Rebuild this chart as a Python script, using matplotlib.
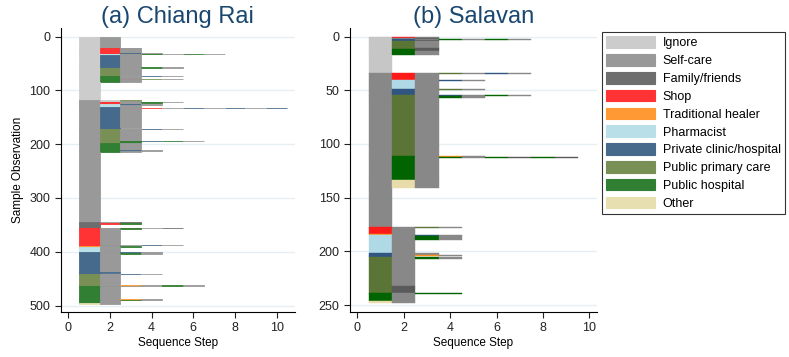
import matplotlib
matplotlib.use('Agg')
from matplotlib import pyplot as plt
from matplotlib.patches import Patch

plt.rcParams['font.family'] = ['Liberation Sans', 'DejaVu Sans']

# states: code -> label
codes = ['I', 'S', 'F', 'H', 'T', 'P', 'C', 'U', 'G', 'O']
labels = ['Ignore', 'Self-care', 'Family/friends', 'Shop', 'Traditional healer',
          'Pharmacist', 'Private clinic/hospital', 'Public primary care',
          'Public hospital', 'Other']

# sequence groups (sequence of states, number of observations), top to bottom
chiang_rai_seqs = ['IS', 'IFS', 'IHS', 'IHCS', 'IPSGSGS', 'IPS', 'ICS', 'ICSGS',
                   'IUS', 'IUPCS', 'IGS', 'IGHUS', 'IGS', 'I',
                   'SIU', 'SIS', 'SHSUS', 'SHSG', 'SHS', 'STS', 'SPCS', 'SPS',
                   'SCS', 'SCSHSCSCSC', 'SCS', 'SC', 'SUSCS', 'SUS', 'SUGCGS',
                   'SUG', 'SGS', 'SGCS', 'SGS', 'S',
                   'FSF', 'FSS', 'FHG', 'F',
                   'HSHSF', 'HSG', 'HS', 'HCSCS', 'HS', 'TSG',
                   'PS', 'PF',
                   'CSCS', 'CSGS', 'CS', 'CC', 'C',
                   'USCS', 'US', 'USTSGS',
                   'GGS', 'GS', 'GSTS', 'GSG', 'GS', 'OS']
chiang_rai_counts = [21, 1, 9, 1, 1, 2, 21, 3,
                     14, 1, 4, 1, 5, 34,
                     1, 2, 1, 1, 2, 1, 1, 3,
                     2, 1, 37, 1, 1, 22, 1,
                     2, 14, 1, 2, 131,
                     1, 1, 1, 7,
                     1, 2, 29, 1, 2, 1,
                     9, 1,
                     2, 1, 34, 1, 2,
                     1, 20, 1,
                     1, 24, 1, 1, 5, 2]

salavan_seqs = ['IHS', 'ISF', 'ICSGSGS', 'ICF', 'IUS', 'IUF', 'IGF', 'IGS', 'I',
                'SHSUSCS', 'SHS', 'SPSCS', 'SPS', 'SCSUS', 'SCS', 'SUSCSGS',
                'SUSGS', 'SUS', 'SGSTS', 'SGSGSGFGF', 'SGS', 'SOS', 'S',
                'HSUS', 'HS', 'TS', 'PSCS', 'PSGS', 'PS', 'CSS', 'CSTS', 'CS',
                'USGS', 'US', 'UF', 'GSGG', 'GS', 'OS']
salavan_counts = [1, 1, 1, 1, 7, 1, 1, 4, 17,
                  1, 5, 1, 8, 1, 4, 1,
                  2, 54, 1, 1, 21, 7, 36,
                  1, 6, 1, 1, 3, 13, 1, 1, 1,
                  2, 25, 7, 1, 6, 2]

colors_a = {'I': '#cccccc', 'S': '#999999', 'F': '#6e6e6e', 'H': '#ff3333',
            'T': '#ff9933', 'P': '#b9dfe8', 'C': '#466a8c', 'U': '#789055',
            'G': '#317f32', 'O': '#e8dfb0'}
colors_b = {'I': '#c6c6c6', 'S': '#888888', 'F': '#5a5a5a', 'H': '#ff1a1a',
            'T': '#ff9020', 'P': '#b0d9e6', 'C': '#2f5580', 'U': '#5a7535',
            'G': '#006400', 'O': '#e8dcaa'}


def draw(ax, seqs, counts, colors, edge):
    row = 0
    for seq, n in zip(seqs, counts):
        for j, c in enumerate(seq):
            ax.barh(row, 1, left=j + 0.5, height=n, align='edge',
                    color=colors[c], edgecolor=colors[c], lw=edge)
        row += n


def style(ax):
    ax.yaxis.grid(True, color='#e6eff1', lw=1)
    ax.set_axisbelow(True)
    ax.spines['top'].set_visible(False)
    ax.spines['right'].set_visible(False)
    ax.tick_params(direction='out', length=4, labelsize=9, colors='#222222')
    ax.set_xticks([0, 2, 4, 6, 8, 10])
    ax.set_xlabel('Sequence Step', fontsize=8.5, labelpad=2)


fig = plt.figure(figsize=(7.89, 3.57), dpi=100)
ax1 = fig.add_axes([0.0769, 0.126, 0.297, 0.795])
ax2 = fig.add_axes([0.4436, 0.126, 0.313, 0.795])

draw(ax1, chiang_rai_seqs, chiang_rai_counts, colors_a, 0.6)
style(ax1)
ax1.set_xlim(-0.365, 10.88)
ax1.set_ylim(512, -15.6)
ax1.set_yticks([0, 100, 200, 300, 400, 500])
ax1.set_ylabel('Sample Observation', fontsize=8.5)
ax1.set_title('(a) Chiang Rai', color='#1a476f', fontsize=17, pad=3)

draw(ax2, salavan_seqs, salavan_counts, colors_b, 0.3)
style(ax2)
ax2.set_xlim(-0.315, 10.33)
ax2.set_ylim(256.5, -7.8)
ax2.set_yticks([0, 50, 100, 150, 200, 250])
ax2.set_title('(b) Salavan', color='#1a476f', fontsize=17, pad=3)

handles = [Patch(facecolor=colors_a[c], edgecolor=colors_a[c], lw=0.8) for c in codes]
leg = fig.legend(handles, labels, loc='upper left', bbox_to_anchor=(602 / 789, 1 - 32 / 357),
                 fontsize=9, frameon=True, fancybox=False, handlelength=3.85,
                 handleheight=1.05, labelspacing=0.38, handletextpad=0.65,
                 borderpad=0.35, borderaxespad=0)
leg.get_frame().set_edgecolor('black')
leg.get_frame().set_linewidth(0.8)

fig.savefig('out.png', dpi=100)
